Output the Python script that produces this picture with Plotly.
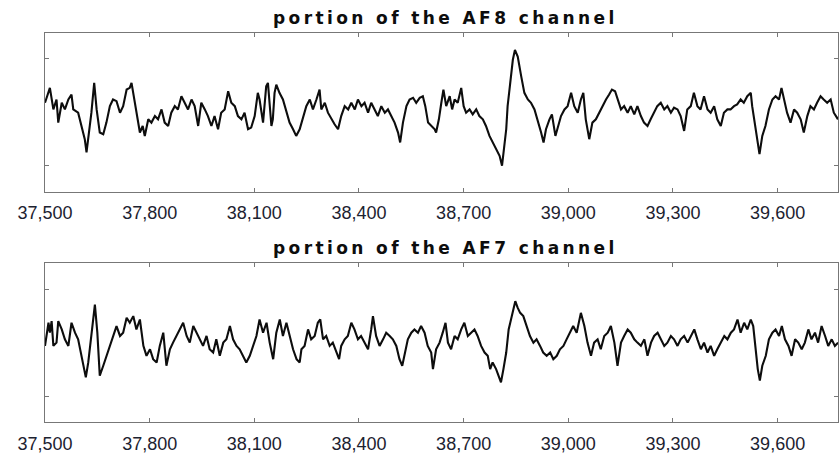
import plotly.graph_objects as go
from plotly.subplots import make_subplots

# ---------------- data ----------------
af8_x = [37500, 37514, 37524, 37533, 37538, 37548, 37557, 37567, 37576, 37581, 37595, 37605, 37614, 37619, 37627,
         37633, 37641, 37648, 37657, 37667, 37676, 37686, 37695, 37705, 37715, 37724, 37734, 37743, 37748, 37753,
         37762, 37772, 37780, 37786, 37796, 37805, 37815, 37824, 37834, 37843, 37853, 37862, 37872, 37881, 37891,
         37901, 37910, 37920, 37929, 37939, 37948, 37958, 37967, 37977, 37986, 37996, 38005, 38015, 38025, 38034,
         38044, 38053, 38063, 38072, 38082, 38091, 38101, 38110, 38115, 38125, 38134, 38139, 38144, 38149, 38153,
         38158, 38163, 38172, 38182, 38192, 38201, 38211, 38220,
         38230, 38240, 38249, 38259, 38268, 38278, 38287, 38292, 38302, 38311, 38321, 38330, 38340, 38349, 38359,
         38369, 38378, 38388, 38397, 38407, 38416, 38426, 38435, 38445, 38454, 38464, 38474, 38483, 38493, 38502,
         38512, 38518, 38526, 38536, 38545, 38555, 38564, 38574, 38583, 38590, 38598, 38607, 38617, 38621, 38629,
         38636, 38642, 38650, 38660, 38667, 38674, 38683, 38693, 38700, 38707, 38717, 38726, 38736, 38745, 38755,
         38764, 38774, 38784, 38793, 38803, 38810, 38817, 38822, 38826, 38831, 38836, 38841, 38847, 38855, 38865,
         38874, 38884, 38893, 38903, 38912, 38922, 38929, 38936, 38946, 38953, 38963, 38970, 38979, 38989, 38998,
         39008, 39017, 39027,
         39036, 39043, 39050, 39060, 39069, 39079, 39088, 39098, 39108, 39117, 39125, 39134, 39141, 39151, 39160,
         39170, 39179, 39189, 39198, 39208, 39217, 39227, 39236, 39246, 39255, 39265, 39275, 39284, 39294, 39303,
         39313, 39322, 39332, 39341, 39351, 39360, 39370, 39379, 39389, 39399, 39408, 39418, 39427, 39437, 39446,
         39456, 39465, 39475, 39484, 39494, 39503, 39513, 39523, 39527, 39535, 39543, 39548, 39556, 39565, 39575,
         39585, 39594, 39604, 39611, 39618, 39627, 39637, 39647, 39656, 39666, 39675, 39685, 39694, 39704, 39713,
         39723, 39732, 39742, 39752, 39761, 39773]
af8_v = [9.7, 24.7, 3, 13, -10.3, 9.7, 3, 13, 18, 3, -0.3, -13.7, -27, -40.3, -20.3,
         -0.3, 29.7, 3, -20.3, -22, -10.3, 6.3, 13, 11.3, -0.3, 6.3, 23, 24.7, 29.7, 19.7,
         3, -20.3, -13.7, -23.7, -7, -10.3, -3.7, -7, 3, -10.3, -13.7, -0.3, 6.3, 3, 16.3,
         9.7, 3, 13, 6.3, -13.7, 9.7, 3, -3.7, -13.7, -3.7, -17, -0.3, 3, 21.3, 9.7,
         6.3, -3.7, -7, -0.3, -17, -15.3, -3.7, 19.7, 13, -10.3, 26.3, 29.7, 3, -13.7, -7,
         19.7, 28, 19.7, 13, -0.3, -10.3, -17, -23.7,
         -17, -3.7, 6.3, 13, 3, 13, 23, 3, 9.7, -0.3, -7, -12, -17, -3.7, 6.3,
         3, 9.7, 3, 13, 6.3, 9.7, -0.3, 9.7, 3, -3.7, 6.3, -0.3, 3, -3.7, -10.3,
         -20.3, -30.3, -10.3, 6.3, 13, 14.7, 9.7, 14.7, 16.3, 6.3, -10.3, -13.7, -17, -20.3, -7,
         9.7, 23, 6.3, 16.3, 3, 13, 9.7, 24.7, 6.3, -0.3, 3, -2, 3, -3.7, -7,
         -13.7, -23.7, -30.3, -37, -43.7, -53.7, -33.7, -17, 6.3, 23, 39.7, 53, 63, 56.3, 36.3,
         19.7, 13, 9.7, 3, -7, -20.3, -30.3, -17, -7, -2, -23.7, -13.7, -3.7, 3, 6.3,
         19.7, 6.3, -0.3,
         13, 19.7, -7, -27, -10.3, -7, -0.3, 6.3, 13, 18, 23, 21.3, 13, 3, 6.3,
         -0.3, 6.3, -2, 6.3, -3.7, -10.3, -13.7, -7, -0.3, 6.3, 9.7, 3, 6.3, -0.3, 4.7,
         3, -3.7, -18.7, 3, 6.3, 19.7, 6.3, 3, 16.3, 3, -0.3, 6.3, -7, -13.7, -0.3,
         3, 3, 6.3, 8, 13, 9.7, 16.3, 19.7, 6.3, -13.7, -33.7, -42, -23.7, -13.7, 3,
         13, 16.3, 13, 24.7, 13, -0.3, -10.3, 3, -0.3, -7, -20.3, -3.7, 6.3, 3, 9.7,
         16.3, 13, 9.7, 13, -0.3, -7]

af7_x = [37500, 37510, 37514, 37519, 37524, 37533, 37538, 37548, 37557, 37567, 37576, 37586, 37595, 37605, 37612,
         37617, 37624, 37631, 37638, 37643, 37650, 37657, 37667, 37677, 37686, 37695, 37705, 37715, 37724, 37734,
         37743, 37753, 37762, 37772, 37782, 37791, 37801, 37810, 37820, 37829, 37839, 37848, 37858, 37867, 37877,
         37887, 37896, 37906, 37915, 37925, 37934, 37944, 37953, 37963, 37972, 37982, 37991, 38001, 38011, 38020,
         38030, 38039, 38049, 38058, 38068, 38077, 38087, 38096, 38106, 38115, 38125, 38135, 38144, 38154, 38163,
         38173, 38182, 38192, 38201, 38211, 38221, 38230,
         38235, 38244, 38254, 38263, 38273, 38282, 38289, 38297, 38306, 38316, 38325, 38335, 38343, 38349, 38359,
         38368, 38378, 38387, 38397, 38406, 38416, 38426, 38435, 38440, 38449, 38459, 38469, 38478, 38488, 38497,
         38507, 38516, 38524, 38531, 38540, 38550, 38559, 38569, 38578, 38588, 38597, 38607, 38612, 38621, 38631,
         38640, 38648, 38655, 38664, 38674, 38683, 38693, 38702, 38712, 38721, 38731, 38740, 38750, 38760, 38769,
         38776, 38783, 38793, 38801, 38807, 38814, 38822, 38829, 38836, 38843, 38848, 38855, 38862, 38871, 38881,
         38890, 38900, 38909, 38919, 38928, 38938, 38948, 38957, 38967, 38976, 38986, 38995, 39005, 39014, 39024,
         39036, 39046, 39055, 39065, 39074, 39084, 39093, 39103, 39113, 39122, 39132, 39141, 39151, 39160, 39170,
         39179, 39189, 39198, 39208, 39218, 39227, 39237, 39246, 39256, 39265, 39275, 39284, 39294, 39303, 39313,
         39322, 39332, 39342, 39351, 39361, 39370, 39380, 39389, 39399, 39408, 39418, 39427, 39437, 39447, 39456,
         39466, 39475, 39485, 39494, 39504, 39513, 39523, 39530, 39537, 39543, 39549, 39556, 39566, 39575, 39585,
         39594, 39604, 39612, 39621, 39631, 39640, 39650, 39659, 39669, 39678, 39688, 39697, 39707, 39716, 39726,
         39736, 39745, 39755, 39764, 39773]
af7_v = [-3.3, 20, 10, 21.7, -3.3, 0, 21.7, 13.3, 3.3, -3.3, 20, 10, 3.3, -13.3, -23.3,
         -35, -20, 3.3, 20, 38.3, 10, -33.3, -23.3, -13.3, -3.3, 6.7, 16.7, 6.7, 10, 25,
         20, 26.7, 13.3, 23.3, -3.3, -13.3, -6.7, -16.7, -20, -3.3, 10, -23.3, -6.7, 0, 6.7,
         13.3, 20, 6.7, 0, 16.7, 10, 3.3, -3.3, 6.7, -6.7, -10, 3.3, -13.3, 0, 3.3,
         16.7, 3.3, -3.3, -6.7, -13.3, -20, -13.3, -3.3, 6.7, 23.3, 10, 20, 0, -16.7, 10,
         23.3, 6.7, 20, 6.7, -6.7, -16.7, -20,
         -6.7, -3.3, 13.3, 3.3, 6.7, 20, 23.3, 3.3, 6.7, -3.3, 0, -10, -16.7, -3.3, 3.3,
         6.7, 20, 13.3, 3.3, 6.7, 0, -6.7, 13.3, 26.7, 6.7, -3.3, 3.3, 10, 6.7, 3.3,
         -3.3, -16.7, -23.3, -10, 3.3, 10, 13.3, 10, 16.7, 10, -3.3, -10, -26.7, -6.7, 0,
         10, 20, 0, -6.7, 6.7, 3.3, 13.3, 20, 6.7, 10, 13.3, 6.7, -3.3, -10, -13.3,
         -26.7, -20, -26.7, -33.3, -40, -26.7, -10, 13.3, 23.3, 33.3, 41.7, 35, 30, 26.7, 16.7,
         6.7, 0, 3.3, -3.3, -10, -13.3, -10, -16.7, -13.3, -6.7, -3.3, 3.3, 10, 16.7, 10,
         30, 16.7, 0, -13.3, 0, 3.3, -6.7, 6.7, 10, 16.7, 0, -23.3, 0, 6.7, 13.3,
         10, 3.3, 0, -3.3, 3.3, -13.3, 0, 6.7, 10, 3.3, -3.3, 0, 6.7, 3.3, -3.3,
         3.3, 6.7, 0, 6.7, 13.3, 3.3, -6.7, 0, -10, -3.3, -13.3, -6.7, 0, 6.7, 3.3,
         10, 13.3, 23.3, 10, 20, 13.3, 23.3, 16.7, -6.7, -26.7, -38.3, -23.3, -13.3, 3.3, 10,
         13.3, 6.7, 16.7, 3.3, -3.3, -13.3, 3.3, 0, -6.7, 0, 13.3, 3.3, 10, 0, 16.7,
         6.7, -3.3, 3.3, -3.3, 0]

titles = ["portion of the AF8 channel", "portion of the AF7 channel"]
x_ticks = [37500, 37800, 38100, 38400, 38700, 39000, 39300, 39600]
y_ticks = [-54, 54]
x_range = [37500, 39773]
y_range = [-80, 80]

# ---------------- figure ----------------
W, H = 839, 454
mt, mb = 33, 29
plot_h = H - mt - mb
fig = make_subplots(rows=2, cols=1, vertical_spacing=(265 - 193) / plot_h)
fig.update_yaxes(domain=[(425 - 193) / plot_h, 1.0], row=1, col=1)
fig.update_yaxes(domain=[0.0, (425 - 265) / plot_h], row=2, col=1)

for i, (xs, vs) in enumerate([(af8_x, af8_v), (af7_x, af7_v)], start=1):
    fig.add_trace(go.Scatter(x=xs, y=vs, mode="lines",
                             line=dict(color="#0d0d0d", width=2.1),
                             showlegend=False, hoverinfo="skip"), row=i, col=1)

axis_line = "#777777"
fig.update_xaxes(range=x_range, tickvals=x_ticks, tickformat=",d", ticks="inside",
                 ticklen=4, tickcolor=axis_line, showline=True, linecolor=axis_line,
                 linewidth=1, mirror="ticks", showgrid=False, zeroline=False,
                 ticklabelstandoff=5,
                 tickfont=dict(family="Liberation Sans, Arial, sans-serif", size=18, color="#1c2230"))
fig.update_yaxes(range=y_range, tickvals=y_ticks, showticklabels=False, ticks="inside",
                 ticklen=4, tickcolor=axis_line, showline=True, linecolor=axis_line,
                 linewidth=1, mirror="ticks", showgrid=False, zeroline=False)

title_y = [1.0 + 15 / plot_h, (425 - 265) / plot_h + (265 - 250) / plot_h]
for t, ty in zip(titles, title_y):
    fig.add_annotation(text='<span style="letter-spacing:3.4px">' + t + '</span>',
                       xref="paper", yref="paper", x=(446 - 45) / (W - 45), y=ty,
                       xanchor="center", yanchor="middle", showarrow=False,
                       font=dict(family="DejaVu Sans, sans-serif", size=17, color="#0d0d0d",
                                 weight="bold"))

fig.update_layout(width=W, height=H, margin=dict(l=45, r=0, t=mt, b=mb),
                  paper_bgcolor="white", plot_bgcolor="white")

fig.write_html("out.html")
